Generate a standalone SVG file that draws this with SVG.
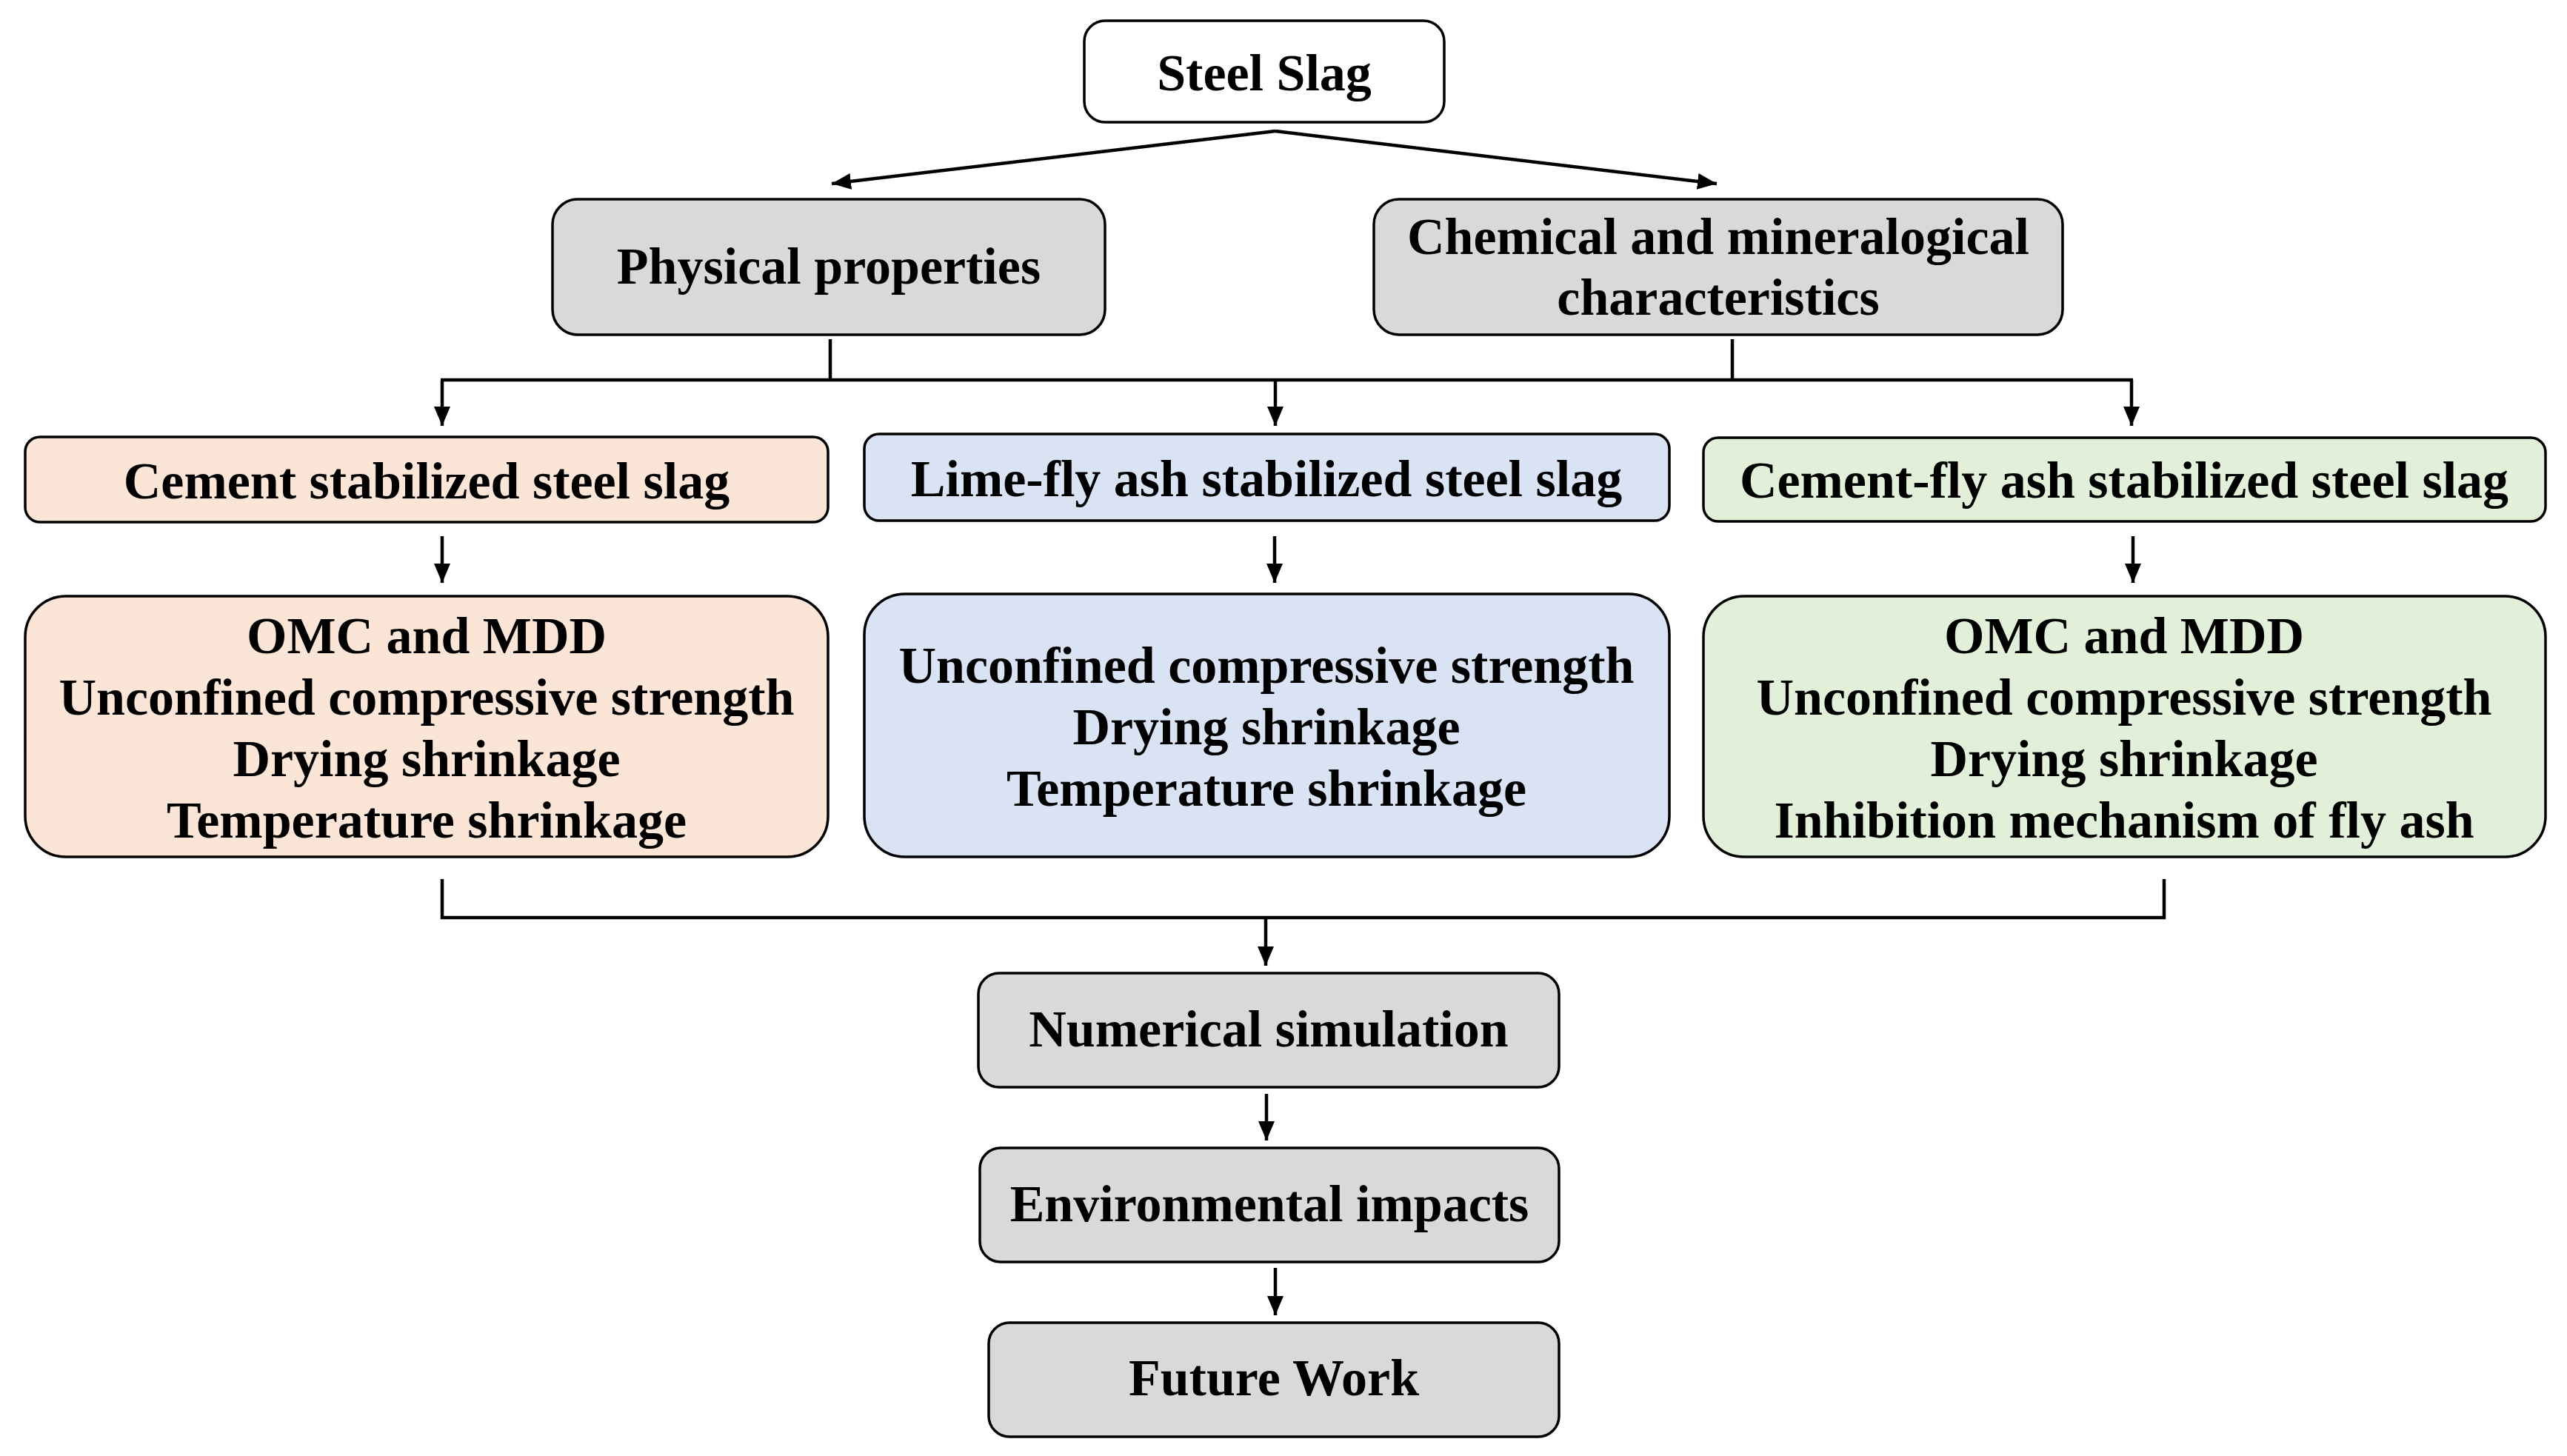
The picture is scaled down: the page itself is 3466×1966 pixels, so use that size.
<svg xmlns="http://www.w3.org/2000/svg" width="3466" height="1966" viewBox="0 0 3466 1966">
<style>
.b{stroke:#000;stroke-width:3.5}
.g{fill:#d9d9d9}
.w{fill:#fff}
.o{fill:#fbe5d6}
.u{fill:#dae3f3}
.n{fill:#e2f0d9}
text{font-family:"Liberation Serif","Times New Roman",serif;font-weight:bold;font-size:70px;text-anchor:middle;fill:#000}
.c{fill:none;stroke:#000;stroke-width:4.5}
</style>
<defs>
<marker id="ah" markerUnits="userSpaceOnUse" viewBox="0 0 26 22" refX="26" refY="11" markerWidth="26" markerHeight="22" orient="auto">
<path d="M0,0 L26,11 L0,22 Z" fill="#000"/>
</marker>
</defs>
<rect width="3466" height="1966" fill="#fff"/>
<g id="connectors">
<line class="c" x1="1722" y1="177" x2="2318" y2="248" marker-end="url(#ah)"/>
<line class="c" x1="1722" y1="177" x2="1123" y2="248" marker-end="url(#ah)"/>
<line class="c" x1="1121" y1="458" x2="1121" y2="513"/>
<line class="c" x1="2339" y1="458" x2="2339" y2="513"/>
<line class="c" x1="595" y1="513" x2="2880" y2="513"/>
<line class="c" x1="597" y1="513" x2="597" y2="575" marker-end="url(#ah)"/>
<line class="c" x1="1722" y1="513" x2="1722" y2="575" marker-end="url(#ah)"/>
<line class="c" x1="2878" y1="513" x2="2878" y2="575" marker-end="url(#ah)"/>
<line class="c" x1="597" y1="724" x2="597" y2="787" marker-end="url(#ah)"/>
<line class="c" x1="1721" y1="724" x2="1721" y2="787" marker-end="url(#ah)"/>
<line class="c" x1="2880" y1="724" x2="2880" y2="787" marker-end="url(#ah)"/>
<polyline class="c" points="597,1187 597,1239 2922,1239 2922,1187"/>
<line class="c" x1="1709" y1="1239" x2="1709" y2="1304" marker-end="url(#ah)"/>
<line class="c" x1="1710" y1="1477" x2="1710" y2="1540" marker-end="url(#ah)"/>
<line class="c" x1="1722" y1="1712" x2="1722" y2="1776" marker-end="url(#ah)"/>
</g>
<g id="steel-slag">
<rect class="b w" x="1464" y="28" width="486" height="137" rx="28"/>
<text x="1707" y="122">Steel Slag</text>
</g>
<g id="physical">
<rect class="b g" x="746" y="269" width="746" height="183" rx="34"/>
<text x="1119" y="383">Physical properties</text>
</g>
<g id="chemical">
<rect class="b g" x="1855" y="269" width="930" height="183" rx="34"/>
<text x="2320" y="343">Chemical and mineralogical</text>
<text x="2320" y="425">characteristics</text>
</g>
<g id="cement">
<rect class="b o" x="34" y="590" width="1084" height="115" rx="20"/>
<text x="576" y="673">Cement stabilized steel slag</text>
</g>
<g id="lime">
<rect class="b u" x="1167" y="586" width="1087" height="117" rx="20"/>
<text x="1710" y="670">Lime-fly ash stabilized steel slag</text>
</g>
<g id="cement-fly">
<rect class="b n" x="2300" y="591" width="1137" height="113" rx="20"/>
<text x="2868" y="672">Cement-fly ash stabilized steel slag</text>
</g>
<g id="cement-detail">
<rect class="b o" x="34" y="805" width="1084" height="352" rx="55"/>
<text x="576" y="882">OMC and MDD</text>
<text x="576" y="965">Unconfined compressive strength</text>
<text x="576" y="1048">Drying shrinkage</text>
<text x="576" y="1131">Temperature shrinkage</text>
</g>
<g id="lime-detail">
<rect class="b u" x="1167" y="802" width="1087" height="355" rx="55"/>
<text x="1710" y="922">Unconfined compressive strength</text>
<text x="1710" y="1005">Drying shrinkage</text>
<text x="1710" y="1088">Temperature shrinkage</text>
</g>
<g id="cement-fly-detail">
<rect class="b n" x="2300" y="805" width="1137" height="352" rx="55"/>
<text x="2868" y="882">OMC and MDD</text>
<text x="2868" y="965">Unconfined compressive strength</text>
<text x="2868" y="1048">Drying shrinkage</text>
<text x="2868" y="1131">Inhibition mechanism of fly ash</text>
</g>
<g id="numerical">
<rect class="b g" x="1321" y="1314" width="784" height="154" rx="28"/>
<text x="1713" y="1413">Numerical simulation</text>
</g>
<g id="environmental">
<rect class="b g" x="1323" y="1550" width="782" height="154" rx="28"/>
<text x="1714" y="1649">Environmental impacts</text>
</g>
<g id="future">
<rect class="b g" x="1335" y="1786" width="770" height="154" rx="28"/>
<text x="1720" y="1884">Future Work</text>
</g>
</svg>
